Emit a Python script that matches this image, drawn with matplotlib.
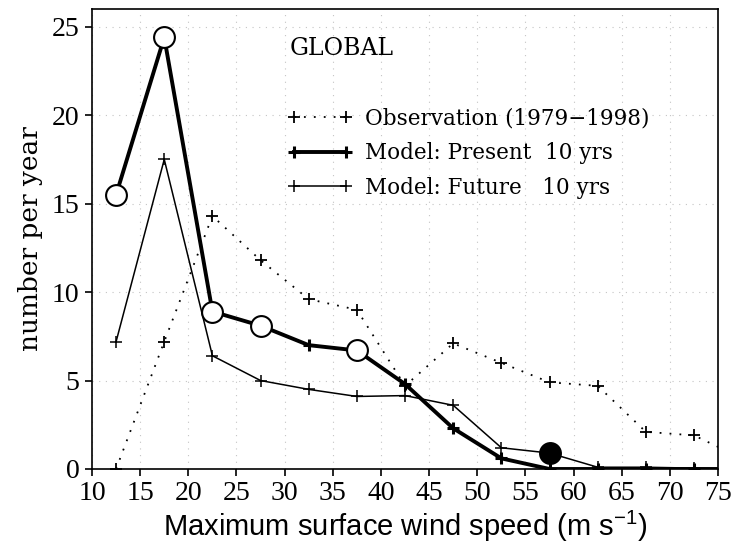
import numpy as np
import matplotlib
matplotlib.use("Agg")
import matplotlib.pyplot as plt

plt.rcParams["mathtext.fontset"] = "custom"
plt.rcParams["mathtext.rm"] = "Liberation Sans"
plt.rcParams["mathtext.it"] = "Liberation Sans"

# bin centres of the wind-speed classes (m/s); the last bin runs past the axis
wind_bins = [12.5, 17.5, 22.5, 27.5, 32.5, 37.5, 42.5, 47.5, 52.5, 57.5, 62.5, 67.5, 72.5, 77.5]
obs_counts = [0.0, 7.2, 14.3, 11.8, 9.6, 9.0, 4.7, 7.1, 6.0, 4.9, 4.7, 2.1, 1.9, 0.6]
present_counts = [15.5, 24.4, 8.9, 8.1, 7.0, 6.7, 4.8, 2.3, 0.6, 0.0, 0.0, 0.0, 0.0, 0.0]
future_counts = [7.2, 17.5, 6.4, 5.0, 4.5, 4.1, 4.15, 3.6, 1.2, 0.9, 0.1, 0.1, 0.05, 0.0]

# bins where the present/future difference is significant
present_sig = [12.5, 17.5, 22.5, 27.5, 37.5]
future_sig = [57.5]

xticks = list(range(10, 80, 5))
yticks = [0, 5, 10, 15, 20, 25]

fig = plt.figure(figsize=(7.32, 5.47), dpi=100)
ax = fig.add_axes([0.1257, 0.1426, 0.8553, 0.8409])

ax.plot(wind_bins, obs_counts, color="black", lw=1.3, ls=(0, (1, 4.5)),
        marker="+", ms=8, mew=1.3, label="Observation (1979\u22121998)")
ax.plot(wind_bins, present_counts, color="black", lw=2.8,
        marker="+", ms=8, mew=2.2, label="Model: Present  10 yrs")
ax.plot(wind_bins, future_counts, color="black", lw=1.1,
        marker="+", ms=8, mew=1.1, label="Model: Future   10 yrs")

psig_y = [present_counts[wind_bins.index(b)] for b in present_sig]
fsig_y = [future_counts[wind_bins.index(b)] for b in future_sig]
ax.plot(present_sig, psig_y, ls="none", marker="o", ms=15, mfc="white",
        mec="black", mew=1.5, zorder=5)
ax.plot(future_sig, fsig_y, ls="none", marker="o", ms=15, mfc="black",
        mec="black", mew=1.5, zorder=5)

ax.set_xlim(10, 75)
ax.set_ylim(0, 26.0)
ax.set_xticks(xticks)
ax.set_yticks(yticks)
ax.grid(True, color="#c4c4c4", lw=0.8, ls=(0, (1, 5)))
ax.set_axisbelow(True)

for s in ax.spines.values():
    s.set_linewidth(1.2)
ax.tick_params(direction="out", length=5, width=1.2, pad=4)
for lab in ax.get_xticklabels() + ax.get_yticklabels():
    lab.set_fontfamily("Liberation Serif")
    lab.set_fontsize(20)

ax.set_ylabel("number per year", fontfamily="DejaVu Serif", fontsize=19, labelpad=6)
ax.set_xlabel(r"Maximum surface wind speed (m s$^{-1}$)", fontfamily="Liberation Sans",
              fontsize=21, labelpad=2)

ax.text(0.316, 0.915, "GLOBAL", transform=ax.transAxes, fontfamily="DejaVu Serif",
        fontsize=17, va="center", ha="left")

ax.legend(loc="upper left", bbox_to_anchor=(0.313, 0.785), frameon=False,
          prop={"family": "DejaVu Serif", "size": 15.5}, handlelength=3.0,
          handletextpad=0.6, labelspacing=0.58, borderpad=0, borderaxespad=0,
          numpoints=2)

fig.savefig("out.png", dpi=100)
